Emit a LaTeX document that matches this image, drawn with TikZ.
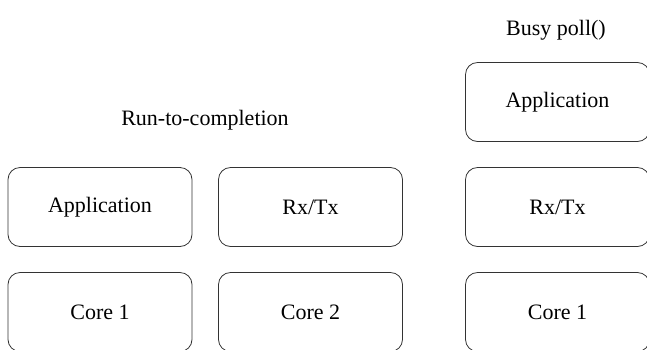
\documentclass[tikz,border=0pt]{standalone}
\usepackage{fontspec}
\setmainfont{Liberation Serif}
\newfontfamily\timesfont{Liberation Serif}
\usetikzlibrary{positioning}

\tikzset{
    layerbox/.style = {draw = black!80, rounded corners = 6pt, minimum width = 92pt, minimum height = 39.5pt, font = \timesfont\fontsize{11}{13}\selectfont},
    caption/.style = {font = \timesfont\fontsize{11}{13}\selectfont}
}

\begin{document}
\begin{tikzpicture}[x = 0.5pt, y = -0.5pt]
        % Rahmen
            \useasboundingbox (0, 0) rectangle (647, 349);

        % Run-to-completion
            \node[caption] (rtc) at (205, 120) {Run-to-completion};
            \node[layerbox] (app1) at (100, 207) {Application};
            \node[layerbox] (rxtx1) at (310.5, 207) {Rx/Tx};
            \node[layerbox] (core1) at (100, 312) {Core 1};
            \node[layerbox] (core2) at (310.5, 312) {Core 2};

        % Busy poll
            \node[caption] (busy) at (556, 30) {Busy poll()};
            \node[layerbox] (app2) at (557.5, 102) {Application};
            \node[layerbox] (rxtx2) at (557.5, 207) {Rx/Tx};
            \node[layerbox] (core3) at (557.5, 312) {Core 1};
\end{tikzpicture}
\end{document}
